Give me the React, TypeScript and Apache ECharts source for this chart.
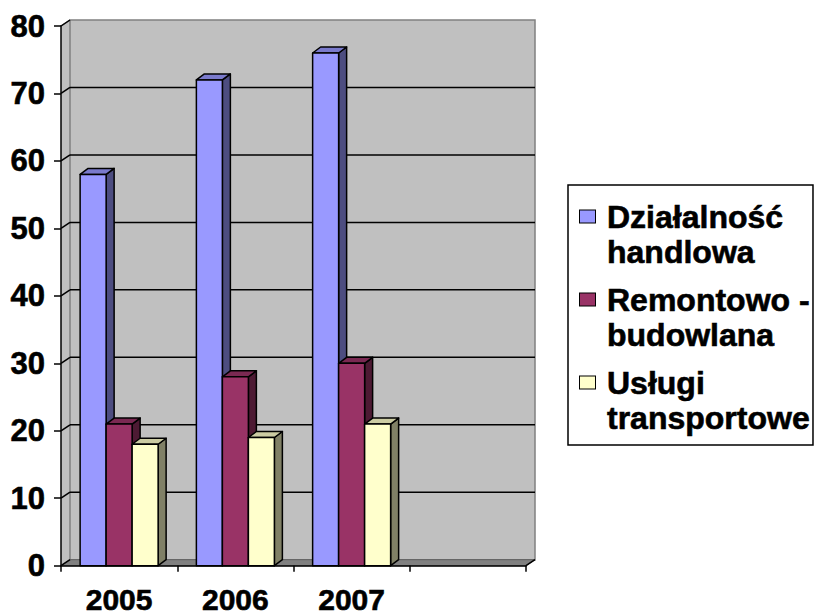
import React, { useEffect, useRef } from 'react';
import * as echarts from 'echarts';

const categories = ['2005', '2006', '2007', ''];
const seriesNames = ['Działalność handlowa', 'Remontowo - budowlana', 'Usługi transportowe'];
const legendLines = [
  ['Działalność', 'handlowa'],
  ['Remontowo -', 'budowlana'],
  ['Usługi', 'transportowe'],
];
const dzialalnosc = [58, 72, 76];
const remontowo = [21, 28, 30];
const uslugi = [18, 19, 21];
const yTicks = [0, 10, 20, 30, 40, 50, 60, 70, 80];

const frontColors = ['#9999FF', '#993366', '#FFFFCC'];
const topColors = ['#7A7ACC', '#7A2952', '#CCCCA3'];
const sideColors = ['#4D4D80', '#4D1A33', '#808066'];

const FONT = 'Liberation Sans, Arial, sans-serif';

export default function App() {
  const ref = useRef<HTMLDivElement>(null);
  useEffect(() => {
    if (!ref.current) return;
    const chart = echarts.init(ref.current, undefined, { renderer: 'svg' });
    const yMax = yTicks[yTicks.length - 1];
    const BW = 26;
    const DX = 8;
    const DY = 6;
    const WX = 9;
    const WY = 6;

    const wallsRender = (params: any, api: any) => {
      const band = api.size([1, 0])[0];
      const c0 = api.coord([0, 0]);
      const cN = api.coord([categories.length - 1, 0]);
      const xL = c0[0] - band / 2;
      const xR = cN[0] + band / 2;
      const y0 = c0[1];
      const yTop = api.coord([0, yMax])[1];
      const children: any[] = [];
      children.push({
        type: 'polygon',
        shape: { points: [[xL, yTop], [xL + WX, yTop - WY], [xL + WX, y0 - WY], [xL, y0]] },
        style: { fill: '#C0C0C0', stroke: null },
      });
      children.push({
        type: 'rect',
        shape: { x: xL + WX, y: yTop - WY, width: xR - xL, height: y0 - yTop },
        style: { fill: '#C0C0C0', stroke: '#808080', lineWidth: 1.5 },
      });
      children.push({
        type: 'line',
        shape: { x1: xL, y1: yTop, x2: xL + WX, y2: yTop - WY },
        style: { stroke: '#808080', lineWidth: 1.5 },
      });
      children.push({
        type: 'polygon',
        shape: { points: [[xL, y0], [xR, y0], [xR + WX, y0 - WY], [xL + WX, y0 - WY]] },
        style: { fill: '#808080', stroke: '#606060', lineWidth: 1 },
      });
      children.push({
        type: 'line',
        shape: { x1: xR, y1: y0, x2: xR + WX, y2: y0 - WY },
        style: { stroke: '#000', lineWidth: 1.5 },
      });
      yTicks.forEach((v) => {
        const y = api.coord([0, v])[1];
        if (v !== 0 && v !== yMax) {
          children.push({
            type: 'line',
            shape: { x1: xL + WX, y1: y - WY, x2: xR + WX, y2: y - WY },
            style: { stroke: '#000', lineWidth: 1.5 },
          });
        }
        children.push({
          type: 'line',
          shape: { x1: xL, y1: y, x2: xL + WX, y2: y - WY },
          style: { stroke: '#000', lineWidth: 1.5 },
        });
      });
      return { type: 'group', children };
    };

    const makeBarRender = (si: number) => (params: any, api: any) => {
      const idx = api.value(0);
      const v = api.value(1);
      const top = api.coord([idx, v]);
      const base = api.coord([idx, 0]);
      const band = api.size([1, 0])[0];
      const x0 = top[0] - band / 2 + (band - 3 * BW) / 2 + si * BW;
      const x1 = x0 + BW;
      const yT = top[1];
      const yB = base[1];
      const st = { stroke: '#000', lineWidth: 1.5, lineJoin: 'round' };
      return {
        type: 'group',
        children: [
          {
            type: 'polygon',
            shape: { points: [[x1, yB], [x1, yT], [x1 + DX, yT - DY], [x1 + DX, yB - DY]] },
            style: { fill: sideColors[si], ...st },
          },
          {
            type: 'polygon',
            shape: { points: [[x0, yT], [x1, yT], [x1 + DX, yT - DY], [x0 + DX, yT - DY]] },
            style: { fill: topColors[si], ...st },
          },
          {
            type: 'rect',
            shape: { x: x0, y: yT, width: BW, height: yB - yT },
            style: { fill: frontColors[si], ...st },
          },
        ],
      };
    };

    const seriesData = [dzialalnosc, remontowo, uslugi];

    const textHeavy = { textBorderColor: '#000', textBorderWidth: 0.6 };
    const rich: any = {
      t: {
        fontSize: 32, fontWeight: 'bold', fontFamily: FONT, color: '#000',
        lineHeight: 35, padding: [0, 0, 0, 12], ...textHeavy,
      },
      s: { width: 15, height: 10, lineHeight: 35 },
    };
    frontColors.forEach((c, i) => {
      rich['m' + i] = {
        width: 15, height: 12, lineHeight: 35, backgroundColor: c, borderColor: '#000', borderWidth: 1,
      };
    });

    chart.setOption({
      animation: false,
      backgroundColor: '#fff',
      grid: { left: 61, top: 26, width: 465, height: 542 },
      legend: {
        orient: 'vertical',
        left: 568,
        top: 185,
        icon: 'none',
        itemWidth: 0,
        itemHeight: 0,
        itemGap: 13,
        padding: [14, 3, 10, 7],
        backgroundColor: '#fff',
        borderColor: '#000',
        borderWidth: 1.5,
        selectedMode: false,
        data: seriesNames,
        formatter: (name: string) => {
          const i = seriesNames.indexOf(name);
          return `{m${i}|}{t|${legendLines[i][0]}}\n{s|}{t|${legendLines[i][1]}}`;
        },
        textStyle: { lineHeight: 35, fontSize: 32, rich },
      },
      xAxis: {
        type: 'category',
        data: categories,
        boundaryGap: true,
        z: 10,
        axisLine: { lineStyle: { color: '#000', width: 1.5 } },
        axisTick: { show: true, length: 6, lineStyle: { color: '#000', width: 1.5 } },
        axisLabel: {
          fontSize: 30, fontWeight: 'bold', fontFamily: FONT, color: '#000',
          margin: 23, lineHeight: 22, ...textHeavy,
        },
        splitLine: { show: false },
      },
      yAxis: {
        type: 'value',
        min: 0,
        max: yMax,
        interval: 10,
        z: 10,
        axisLine: { show: true, lineStyle: { color: '#000', width: 1.5 } },
        axisTick: { show: true, length: 7, lineStyle: { color: '#000', width: 1.5 } },
        axisLabel: {
          fontSize: 31, fontWeight: 'bold', fontFamily: FONT, color: '#000', margin: 16, ...textHeavy,
        },
        splitLine: { show: false },
      },
      series: [
        {
          type: 'custom',
          renderItem: wallsRender,
          data: [[0, 0]],
          silent: true,
          z: 1,
        },
        ...seriesData.map((arr, si) => ({
          type: 'custom',
          name: seriesNames[si],
          renderItem: makeBarRender(si),
          data: arr.map((v, i) => [i, v]),
          itemStyle: { color: frontColors[si] },
          z: 2 + si,
        })),
      ],
    });
    return () => chart.dispose();
  }, []);
  return (
    <div
      ref={ref}
      style={{ position: 'absolute', left: 0, top: 0, width: 815, height: 615 }}
    />
  );
}
